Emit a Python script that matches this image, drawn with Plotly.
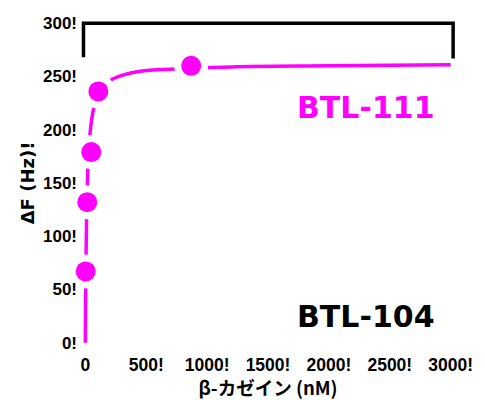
import plotly.graph_objects as go

# Data
pts_x = [3, 16, 49, 107, 869]          # β-casein (nM)
pts_y = [67, 132, 179, 236, 260]       # ΔF (Hz)

fit_x = [0, 2, 5, 10, 20, 33, 50, 75, 107, 150, 200, 300, 450, 730, 1200, 2000, 3000]
fit_y = [0, 35, 73, 114, 159, 188, 208, 223, 234, 241, 246, 251, 255, 257, 259, 260, 261]

btl104_x = [-15, -15, 3020, 3020]
btl104_y = [268, 300, 300, 267]

x_ticks = [0, 500, 1000, 1500, 2000, 2500, 3000]
x_labels = ["0", "500!", "1000!", "1500!", "2000!", "2500!", "3000!"]
y_ticks = [0, 50, 100, 150, 200, 250, 300]
y_labels = ["0!", "50!", "100!", "150!", "200!", "250!", "300!"]

MAG = "#FF00FF"

fig = go.Figure()
fig.add_trace(go.Scatter(x=btl104_x, y=btl104_y, mode="lines",
                         line=dict(color="black", width=3.5), hoverinfo="skip"))
fig.add_trace(go.Scatter(x=fit_x, y=fit_y, mode="lines", line_shape="spline",
                         line=dict(color=MAG, width=3.5), hoverinfo="skip"))
fig.add_trace(go.Scatter(x=pts_x, y=pts_y, mode="markers", cliponaxis=False,
                         marker=dict(color="white", size=34, line=dict(width=0)),
                         hoverinfo="skip"))
fig.add_trace(go.Scatter(x=pts_x, y=pts_y, mode="markers", cliponaxis=False,
                         marker=dict(color=MAG, size=20, line=dict(width=0))))

fig.add_annotation(x=2303, y=221, text="<b>BTL-111</b>", showarrow=False,
                   font=dict(family="DejaVu Sans", size=30, color=MAG))
fig.add_annotation(x=2303, y=25, text="<b>BTL-104</b>", showarrow=False,
                   font=dict(family="DejaVu Sans", size=30, color="black"))

# page body has an 8px margin, so the figure is sized to the visible area
fig.update_layout(
    width=477, height=392,
    margin=dict(l=70, r=27, t=11, b=53),
    paper_bgcolor="white", plot_bgcolor="white",
    showlegend=False,
    xaxis=dict(range=[-60, 3060], tickvals=x_ticks, ticktext=x_labels,
               automargin=False,
               showgrid=False, zeroline=False, showline=False,
               ticks="outside", ticklen=2, tickcolor="rgba(0,0,0,0)",
               tickfont=dict(family="Liberation Sans", size=17.5, color="black", weight="bold"),
               title=dict(text="<b>β-カゼイン (nM)</b>", standoff=8,
                          font=dict(family="Noto Sans CJK JP", size=18.5, color="black"))),
    yaxis=dict(range=[-4, 304], tickvals=y_ticks, ticktext=y_labels,
               automargin=False,
               showgrid=False, zeroline=False, showline=False,
               ticks="",
               tickfont=dict(family="Liberation Sans", size=17, color="black", weight="bold"),
               title=dict(text="<b>ΔF (Hz)!</b>", standoff=3,
                          font=dict(family="DejaVu Sans", size=18, color="black"))),
)

fig.write_html("out.html")
